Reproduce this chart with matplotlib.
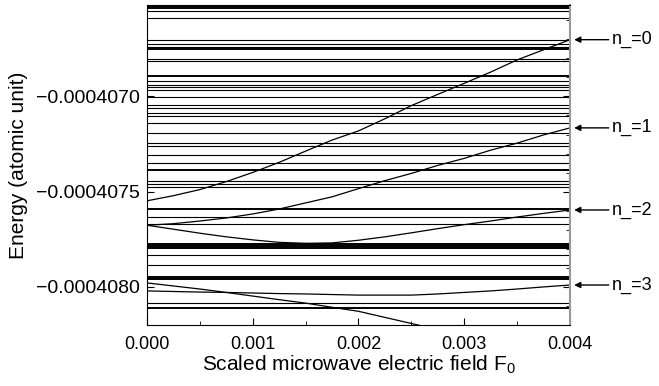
import numpy as np
import matplotlib
matplotlib.use('Agg')
import matplotlib.pyplot as plt
from matplotlib.ticker import MultipleLocator, FuncFormatter

plt.rcParams['font.family'] = ['Liberation Sans', 'DejaVu Sans']
plt.rcParams['mathtext.fontset'] = 'custom'
plt.rcParams['mathtext.rm'] = 'Liberation Sans'

# field grid used for the curved levels
field = [0.0, 0.00025, 0.0005, 0.00075, 0.001, 0.00125, 0.0015, 0.00175, 0.002,
         0.00225, 0.0025, 0.00275, 0.003, 0.00325, 0.0035, 0.00375, 0.004]

# nearly flat levels (atomic units)
thin_levels = [-4.06553e-4, -4.06590e-4, -4.06702e-4, -4.06723e-4, -4.06739e-4,
               -4.06803e-4, -4.06814e-4, -4.06920e-4, -4.06941e-4, -4.06952e-4,
               -4.06968e-4, -4.07005e-4, -4.07043e-4, -4.07059e-4, -4.07085e-4,
               -4.07101e-4, -4.07138e-4, -4.07191e-4, -4.07245e-4, -4.07261e-4,
               -4.07309e-4, -4.07351e-4, -4.07442e-4, -4.07458e-4, -4.07473e-4,
               -4.07633e-4, -4.07670e-4, -4.07830e-4, -4.07883e-4, -4.08085e-4]
thick_levels = [-4.06527e-4, -4.06536e-4, -4.06750e-4, -4.06894e-4, -4.07388e-4,
                -4.07591e-4, -4.07777e-4, -4.07787e-4, -4.07798e-4, -4.07947e-4,
                -4.07958e-4, -4.08113e-4]

# curved levels
curve_n0 = [-4.07548e-4, -4.07521e-4, -4.07489e-4, -4.07447e-4, -4.07399e-4,
            -4.07346e-4, -4.07287e-4, -4.07229e-4, -4.07181e-4, -4.07117e-4,
            -4.07048e-4, -4.06989e-4, -4.06931e-4, -4.06872e-4, -4.06808e-4,
            -4.06755e-4, -4.06702e-4]
curve_n1 = [-4.07676e-4, -4.07668e-4, -4.07654e-4, -4.07638e-4, -4.07617e-4,
            -4.07591e-4, -4.07559e-4, -4.07527e-4, -4.07484e-4, -4.07442e-4,
            -4.07404e-4, -4.07362e-4, -4.07325e-4, -4.07282e-4, -4.07245e-4,
            -4.07202e-4, -4.07165e-4]
curve_n2 = [-4.07676e-4, -4.07697e-4, -4.07718e-4, -4.07737e-4, -4.07753e-4,
            -4.07766e-4, -4.07771e-4, -4.07769e-4, -4.07755e-4, -4.07737e-4,
            -4.07716e-4, -4.07694e-4, -4.07673e-4, -4.07654e-4, -4.07633e-4,
            -4.07614e-4, -4.07596e-4]
curve_n3 = [-4.08021e-4, -4.08024e-4, -4.08027e-4, -4.08029e-4, -4.08032e-4,
            -4.08035e-4, -4.08037e-4, -4.08040e-4, -4.08043e-4, -4.08043e-4,
            -4.08043e-4, -4.08037e-4, -4.08029e-4, -4.08021e-4, -4.08011e-4,
            -4.08000e-4, -4.07990e-4]
curve_down = [-4.07979e-4, -4.07995e-4, -4.08011e-4, -4.08029e-4, -4.08048e-4,
              -4.08067e-4, -4.08085e-4, -4.08107e-4, -4.08128e-4, -4.08160e-4,
              -4.08192e-4, -4.08224e-4]

labels = ['n_=0', 'n_=1', 'n_=2', 'n_=3']
label_energy = [curve_n0[-1], curve_n1[-1], curve_n2[-1], curve_n3[-1]]

fig = plt.figure(figsize=(6.59, 3.86), dpi=100)
ax = fig.add_axes([0.223, 0.158, 0.642, 0.829])

ax.hlines(thin_levels, field[0], field[-1], color='black', lw=0.8)
ax.hlines(thick_levels, field[0], field[-1], color='black', lw=1.4)

for c in [curve_n0, curve_n1, curve_n2, curve_n3]:
    ax.plot(field, c, color='black', lw=0.9)
ax.plot(field[:len(curve_down)], curve_down, color='black', lw=0.9)

ax.set_xlim(0, 0.004)
ax.set_ylim(-4.0820e-4, -4.0652e-4)

ax.xaxis.set_major_locator(MultipleLocator(0.001))
ax.xaxis.set_minor_locator(MultipleLocator(0.0005))
ax.yaxis.set_major_locator(MultipleLocator(5e-7))
ax.yaxis.set_minor_locator(MultipleLocator(1e-7))
ax.xaxis.set_major_formatter(FuncFormatter(lambda v, p: '%.3f' % v))
ax.yaxis.set_major_formatter(FuncFormatter(lambda v, p: ('%.7f' % v).replace('-', '\u2212')))
ax.tick_params(axis='both', which='both', direction='in')
ax.tick_params(axis='x', which='major', length=5, pad=8, labelsize=13)
ax.tick_params(axis='x', which='minor', length=3)
ax.tick_params(axis='y', which='major', length=5, pad=5, right=True, labelsize=14)
ax.tick_params(axis='y', which='minor', length=3, left=False, right=True)
ax.spines['right'].set_color('#999999')
ax.spines['right'].set_linewidth(1.5)

ax.set_xlabel('Scaled microwave electric field F$_\\mathrm{0}$', fontsize=15, labelpad=0)
ax.set_ylabel('Energy (atomic unit)', fontsize=15, labelpad=6)

for lab, e in zip(labels, label_energy):
    ax.annotate(lab, xy=(0.004, e), xycoords='data',
                xytext=(0.928, e), textcoords=('figure fraction', 'data'),
                ha='left', va='center', fontsize=13, annotation_clip=False,
                arrowprops=dict(arrowstyle='-|>', color='black', lw=1,
                                mutation_scale=9, shrinkA=0, shrinkB=3))

fig.savefig('out.png', dpi=100)
